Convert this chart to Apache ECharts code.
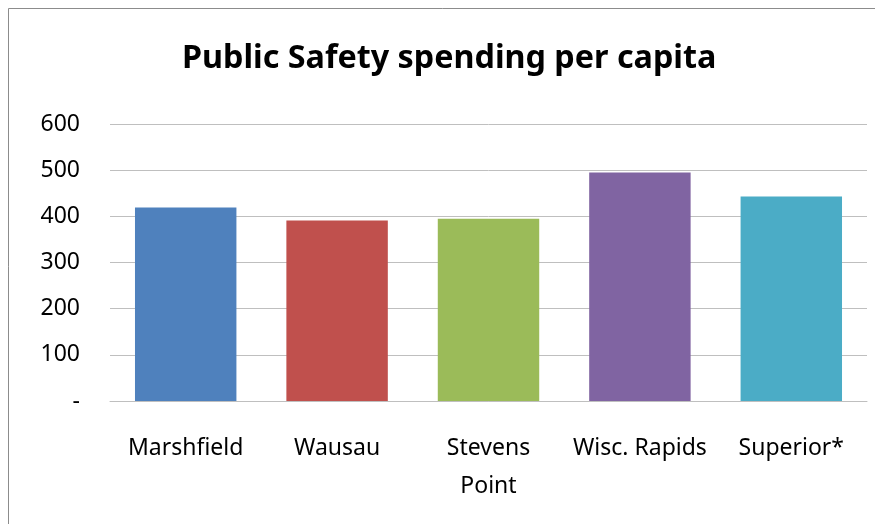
<!DOCTYPE html>
<html>
<head>
<meta charset="utf-8">
<script src="https://cdn.jsdelivr.net/npm/echarts@6/dist/echarts.min.js"></script>
<style>
  html, body { margin: 0; padding: 0; background: #fff; }
  #chart { width: 875px; height: 524px; }
</style>
</head>
<body>
<div id="chart"></div>
<script>
const titleText = 'Public Safety spending per capita';
const cities = ['Marshfield', 'Wausau', 'Stevens\nPoint', 'Wisc. Rapids', 'Superior*'];
const spending = [419, 391, 395, 495, 443];
const barColors = ['#4F81BD', '#C0504D', '#9BBB59', '#8064A2', '#4BACC6'];
const yTicks = [0, 100, 200, 300, 400, 500, 600];

const FONT = '"Noto Sans", "Open Sans", sans-serif';

const chart = echarts.init(document.getElementById('chart'), null, { renderer: 'canvas' });
chart.setOption({
  animation: false,
  backgroundColor: '#ffffff',
  title: {
    text: titleText,
    left: 177,
    top: 38,
    textStyle: { fontFamily: FONT, fontWeight: 'bold', fontSize: 32.3, color: '#000' }
  },
  graphic: [{
    type: 'rect',
    shape: { x: 8.5, y: 8.5, width: 900, height: 600 },
    style: { fill: 'none', stroke: '#8c8c8c', lineWidth: 1 },
    silent: true
  }],
  grid: { left: 110, right: 8, top: 124, bottom: 123 },
  xAxis: {
    type: 'category',
    data: cities,
    axisLine: { show: true, lineStyle: { color: '#bfbfbf', width: 1 } },
    axisTick: { show: false },
    axisLabel: {
      interval: 0,
      margin: 28,
      fontFamily: FONT,
      fontSize: 23,
      color: '#000',
      lineHeight: 38
    }
  },
  yAxis: {
    type: 'value',
    min: yTicks[0],
    max: yTicks[yTicks.length - 1],
    interval: 100,
    axisLine: { show: false },
    axisTick: { show: false },
    splitLine: { lineStyle: { color: '#bfbfbf', width: 1 } },
    axisLabel: {
      margin: 30,
      fontFamily: FONT,
      fontSize: 23,
      color: '#000',
      formatter: v => (v === 0 ? '-' : String(v))
    }
  },
  series: [{
    type: 'bar',
    data: spending.map((v, i) => ({ value: v, itemStyle: { color: barColors[i] } })),
    barCategoryGap: '33%'
  }]
});
</script>
</body>
</html>
